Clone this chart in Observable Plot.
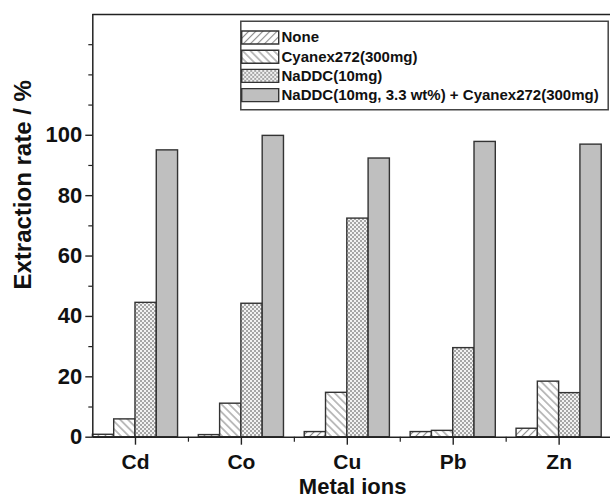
<!DOCTYPE html>
<html><head><meta charset="utf-8">
<script src="https://cdn.jsdelivr.net/npm/d3@7"></script>
<script src="https://cdn.jsdelivr.net/npm/@observablehq/plot@0.6"></script>
<style>body{margin:0;background:#fff}</style>
</head><body><div id="chart"></div>
<script>
const metals = ["Cd", "Co", "Cu", "Pb", "Zn"];
const series = ["None", "Cyanex272(300mg)", "NaDDC(10mg)", "NaDDC(10mg, 3.3 wt%) + Cyanex272(300mg)"];
const noneVals = [0.8, 0.7, 1.7, 1.7, 2.8];
const cyanexVals = [5.9, 11.1, 14.7, 2.1, 18.4];
const naddcVals = [44.5, 44.2, 72.4, 29.5, 14.6];
const comboVals = [95.0, 99.8, 92.3, 97.8, 96.9];
const yMajorTicks = [0, 20, 40, 60, 80, 100];
const yMinorTicks = [10, 30, 50, 70, 90, 110, 120, 130];
const yLabel = "Extraction rate / %";
const xLabel = "Metal ions";

const valueSets = [noneVals, cyanexVals, naddcVals, comboVals];
const fills = ["url(#pat-none)", "url(#pat-cyanex)", "url(#pat-naddc)", "#bfbfbf"];
const barW = 0.201;
const xDomain = [-0.403, 4.485];
const yDomain = [0, 140];
const rows = series.flatMap((s, j) => metals.map((m, i) => ({metal: m, i, j, series: s, value: valueSets[j][i]})));

const font = "'Liberation Sans', Arial, Helvetica, sans-serif";
const rectSymbol = (w, h) => ({draw(ctx) { ctx.moveTo(-w/2, -h/2); ctx.lineTo(w/2, -h/2); ctx.lineTo(w/2, h/2); ctx.lineTo(-w/2, h/2); ctx.closePath(); }});

const marks = [];
series.forEach((s, j) => {
  marks.push(Plot.rect(rows.filter(d => d.j === j), {
    x1: d => d.i + (d.j - 2) * barW,
    x2: d => d.i + (d.j - 1) * barW,
    y1: d => 0,
    y2: "value",
    fill: fills[j], stroke: "#333", strokeWidth: 1.4
  }));
});
marks.push(
  Plot.ruleY([yDomain[0], yDomain[1]], {stroke: "#222", strokeWidth: 1.5}),
  Plot.ruleX([xDomain[0]], {stroke: "#222", strokeWidth: 1.5}),
  Plot.axisY({ticks: yMajorTicks, tickSize: 7, tickPadding: 3.6, fontSize: 22, fontWeight: "bold", label: null, stroke: "#222", strokeWidth: 1.4}),
  Plot.axisY({ticks: yMinorTicks, tickSize: 4, tickFormat: () => "", label: null, stroke: "#222", strokeWidth: 1.2}),
  Plot.axisX({ticks: metals.map((m, i) => i), tickFormat: i => metals[i], tickSize: 8, tickPadding: 9, fontSize: 21, fontWeight: "bold", label: null, stroke: "#222", strokeWidth: 1.4}),
  Plot.axisX({ticks: metals.slice(1).map((m, i) => i + 0.5), tickSize: 5, tickFormat: () => "", label: null, stroke: "#222", strokeWidth: 1.2}),
  Plot.text([yLabel], {frameAnchor: "left", rotate: -90, dx: -69, dy: -41, textAnchor: "middle", lineAnchor: "middle", fontSize: 24, fontWeight: "bold", fill: "#111"}),
  Plot.text([xLabel], {frameAnchor: "bottom", dx: 1, dy: 50, textAnchor: "middle", lineAnchor: "middle", fontSize: 22, fontWeight: "bold", fill: "#111"}),
  // legend box
  Plot.dot([0], {frameAnchor: "top-left", dx: 424 - 92.3, dy: 65 - 14, symbol: rectSymbol(367.4, 88.6), fill: "#fff", stroke: "#444", strokeWidth: 1.5})
);
series.forEach((s, j) => {
  marks.push(
    Plot.dot([s], {frameAnchor: "top-left", dx: 259.7 - 92.3, dy: 23 + 19.2 * j, symbol: rectSymbol(37, 13), fill: fills[j], stroke: "#333", strokeWidth: 1.4}),
    Plot.text([s], {frameAnchor: "top-left", dx: 281 - 92.3, dy: 23 + 19.2 * j, text: d => d, textAnchor: "start", lineAnchor: "middle", fontSize: 15, fontWeight: "bold", fill: "#111"})
  );
});

const svg = Plot.plot({
  width: 610, height: 499,
  marginLeft: 92.3, marginRight: 0, marginTop: 14, marginBottom: 62.3,
  x: {type: "linear", domain: xDomain},
  y: {domain: yDomain},
  style: {fontFamily: font, background: "#fff", color: "#111", overflow: "visible"},
  marks
});

const defs = d3.select(svg).insert("defs", ":first-child");
const p0 = defs.append("pattern").attr("id", "pat-none").attr("patternUnits", "userSpaceOnUse")
  .attr("width", 5).attr("height", 5).attr("patternTransform", "rotate(45)");
p0.append("rect").attr("width", 5).attr("height", 5).attr("fill", "#fff");
p0.append("line").attr("x1", 2.5).attr("x2", 2.5).attr("y1", 0).attr("y2", 5).attr("stroke", "#8c8c8c").attr("stroke-width", 1.1);
const p1 = defs.append("pattern").attr("id", "pat-cyanex").attr("patternUnits", "userSpaceOnUse")
  .attr("width", 5.5).attr("height", 5.5).attr("patternTransform", "rotate(-45)");
p1.append("rect").attr("width", 5.5).attr("height", 5.5).attr("fill", "#fff");
p1.append("line").attr("x1", 2.75).attr("x2", 2.75).attr("y1", 0).attr("y2", 5.5).attr("stroke", "#8c8c8c").attr("stroke-width", 1.1);
const p2 = defs.append("pattern").attr("id", "pat-naddc").attr("patternUnits", "userSpaceOnUse")
  .attr("width", 4).attr("height", 4);
p2.append("rect").attr("width", 4).attr("height", 4).attr("fill", "#f2f2f2");
p2.append("rect").attr("x", 0).attr("y", 0).attr("width", 2).attr("height", 2).attr("fill", "#a6a6a6");
p2.append("rect").attr("x", 2).attr("y", 2).attr("width", 2).attr("height", 2).attr("fill", "#a6a6a6");

document.getElementById("chart").appendChild(svg);
</script>
</body></html>
